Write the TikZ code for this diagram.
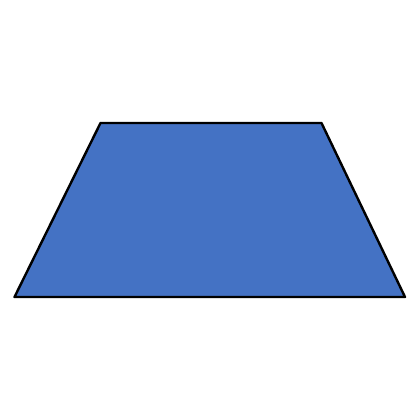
\documentclass[tikz,border=0pt]{standalone}
\begin{document}
\begin{tikzpicture}[x=1pt,y=-1pt]
\definecolor{trapblue}{HTML}{4472C4}
\tikzset{trap/.style={fill=trapblue,draw=black,line width=2.4pt,line join=round}}
\useasboundingbox (0,0) rectangle (420,420);
\fill[white] (0,0) rectangle (420,420);
\draw[trap] (100.5,123) -- (321.5,123) -- (405,297) -- (14.5,297) -- cycle;
\end{tikzpicture}
\end{document}
